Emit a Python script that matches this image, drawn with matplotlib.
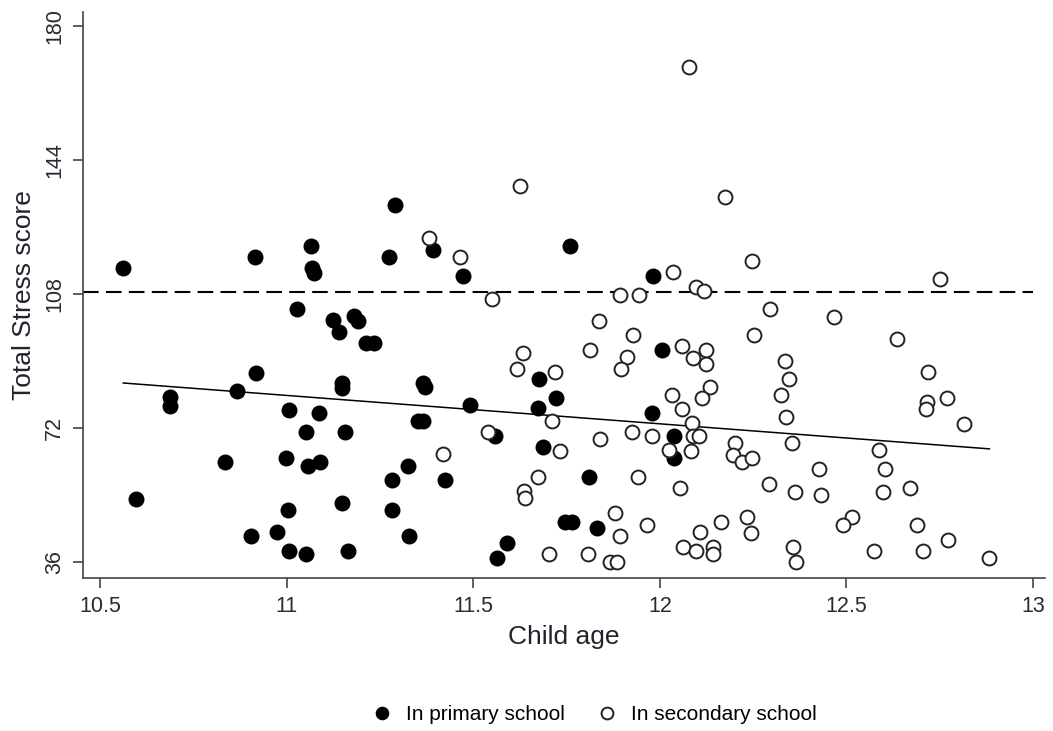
import matplotlib.pyplot as plt

plt.rcParams['font.family'] = ['Liberation Sans', 'DejaVu Sans']

# primary school children (filled markers)
primary_age = [10.562, 10.915, 11.065, 11.068, 11.072, 11.289, 11.273, 11.027, 11.125, 11.139,
               11.179, 11.192, 11.213, 11.234, 10.918, 10.688, 10.688, 10.866, 11.148, 11.148,
               11.005, 11.086, 11.052, 11.155, 10.835, 10.998, 11.058, 11.088, 11.326, 11.282,
               10.596, 11.003, 11.148, 11.282, 11.327, 10.904, 10.975, 11.007, 11.052, 11.164,
               11.393, 11.472, 11.758, 11.981, 12.005, 11.677, 11.365, 11.371, 11.722, 11.491,
               11.674, 11.353, 11.366, 11.978, 12.038, 12.038, 11.558, 11.688, 11.424, 11.810,
               11.746, 11.764, 11.831, 11.591, 11.563]
primary_score = [114.9, 117.9, 120.9, 114.9, 113.7, 131.9, 117.9, 104.0, 101.0, 97.9,
                 102.1, 100.8, 94.9, 94.9, 86.9, 80.3, 77.9, 82.0, 84.0, 82.7,
                 76.8, 76.0, 70.9, 70.9, 62.9, 64.0, 61.9, 62.9, 61.9, 58.0,
                 52.9, 50.0, 51.9, 50.0, 43.1, 43.0, 44.0, 39.0, 38.1, 39.0,
                 119.8, 112.8, 120.9, 112.8, 93.0, 85.2, 84.0, 82.9, 80.0, 78.2,
                 77.3, 74.0, 74.0, 76.1, 69.9, 64.0, 69.9, 67.0, 58.0, 58.9,
                 46.8, 46.8, 45.1, 41.0, 37.0]

# secondary school children (open markers)
secondary_age = [11.625, 12.175, 11.380, 11.465, 11.550, 11.893, 11.945, 12.034, 12.097, 12.118,
                 11.838, 11.929, 11.813, 12.059, 11.911, 11.896, 12.088, 12.123, 12.123, 11.633,
                 11.617, 11.719, 12.135, 12.032, 12.112, 12.059, 12.085, 11.710, 11.925, 11.978,
                 12.090, 12.106, 12.025, 12.084, 11.540, 11.840, 11.733, 11.420, 11.674, 11.942,
                 12.054, 11.636, 11.639, 11.880, 11.893, 11.965, 12.108, 12.164, 11.703, 11.808,
                 11.865, 11.884, 12.063, 12.097, 12.143, 12.143, 12.248, 12.751, 12.295, 12.467,
                 12.251, 12.636, 12.335, 12.347, 12.719, 12.325, 12.338, 12.715, 12.713, 12.770,
                 12.816, 12.200, 12.197, 12.219, 12.246, 12.355, 12.587, 12.427, 12.604, 12.292,
                 12.362, 12.431, 12.598, 12.669, 12.234, 12.244, 12.514, 12.492, 12.688, 12.773,
                 12.358, 12.364, 12.573, 12.704, 12.883, 12.078]
secondary_score = [137.0, 134.0, 123.0, 117.9, 106.8, 107.7, 107.7, 114.0, 110.0, 108.9,
                   100.8, 97.0, 93.0, 94.0, 91.2, 87.9, 90.9, 93.0, 89.1, 92.1,
                   87.9, 87.1, 83.1, 80.9, 80.0, 77.0, 73.3, 74.0, 71.0, 69.9,
                   69.9, 69.9, 66.1, 65.8, 71.0, 69.0, 65.9, 64.9, 58.9, 58.9,
                   56.0, 55.2, 53.1, 49.1, 43.0, 45.9, 44.0, 46.8, 38.1, 38.1,
                   36.0, 36.0, 40.0, 39.0, 40.1, 38.1, 117.0, 112.0, 103.9, 101.9,
                   97.0, 95.8, 90.0, 85.2, 87.0, 80.9, 74.9, 79.1, 77.0, 80.0,
                   73.1, 68.1, 64.7, 62.9, 64.0, 68.1, 66.1, 61.0, 61.0, 57.0,
                   54.9, 54.0, 54.9, 56.0, 48.0, 43.9, 48.0, 45.9, 45.9, 41.9,
                   39.9, 36.0, 39.0, 39.0, 37.0, 169.0]

# fitted line and clinical cut-off
fit_age = [10.562, 12.883]
fit_score = [84.1, 66.4]
cutoff = 108.6

x_ticks = [10.5, 11, 11.5, 12, 12.5, 13]
y_ticks = [36, 72, 108, 144, 180]

fig = plt.figure(figsize=(10.53, 7.31), dpi=100)
ax = fig.add_axes([0.0788, 0.2093, 0.9136, 0.7743])

ax.hlines(cutoff, 10.454, 13, colors='black', linewidth=1.5, linestyles=(0, (7.5, 3.5)))
ax.plot(fit_age, fit_score, color='black', linewidth=1.1)

p1, = ax.plot(primary_age, primary_score, 'o', color='black', markersize=11.5,
              markeredgewidth=0, linestyle='none', label='In primary school')
p2, = ax.plot(secondary_age, secondary_score, 'o', markerfacecolor='white',
              markeredgecolor='#222222', markersize=10, markeredgewidth=1.4,
              linestyle='none', label='In secondary school')

ax.set_xlim(10.454, 13.032)
ax.set_ylim(31.7, 183.8)
ax.set_xticks(x_ticks)
ax.set_xticklabels(['10.5', '11', '11.5', '12', '12.5', '13'])
ax.set_yticks(y_ticks)
ax.set_yticklabels([str(v) for v in y_ticks], rotation=90, va='center')

for s in ['top', 'right']:
    ax.spines[s].set_visible(False)
for s in ['left', 'bottom']:
    ax.spines[s].set_color('#444444')
    ax.spines[s].set_linewidth(1.2)
ax.tick_params(axis='both', direction='out', length=7, width=1.2, color='#444444',
               labelsize=15.5, labelcolor='#2a2a33')
ax.tick_params(axis='x', pad=6)
ax.tick_params(axis='y', pad=6)

ax.set_xlabel('Child age', fontsize=19, color='#22222c', labelpad=6)
ax.set_ylabel('Total Stress score', fontsize=19, color='#22222c', labelpad=6)

fig.legend(handles=[p1, p2], loc='center', bbox_to_anchor=(589 / 1053, 16 / 731),
           ncol=2, frameon=False, fontsize=15, handletextpad=0.15, columnspacing=1.0,
           markerscale=0.85)

fig.savefig('out.png', dpi=100)
